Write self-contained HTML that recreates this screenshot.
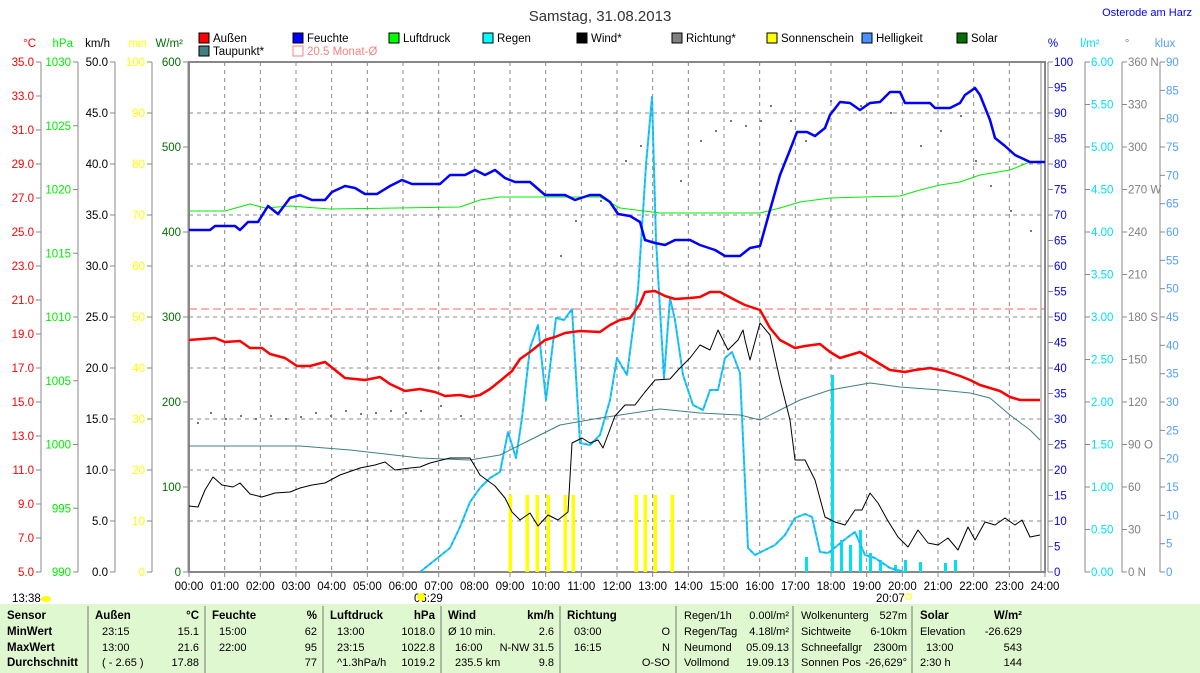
<!DOCTYPE html>
<html><head><meta charset="utf-8">
<style>
body{margin:0;width:1200px;height:673px;background:#fff;overflow:hidden;font-family:"Liberation Sans",sans-serif;}
svg{position:absolute;left:0;top:0}
svg text{font-family:"Liberation Sans",sans-serif;font-size:11.5px}
</style></head><body>
<svg id="s" width="1200" height="673" xmlns="http://www.w3.org/2000/svg">
<rect x="0" y="604" width="1200" height="69" fill="#e0f8d0"/>
<text x="600" y="21" text-anchor="middle" style="font-size:15px" fill="#333">Samstag, 31.08.2013</text>
<text x="1192" y="16" text-anchor="end" style="font-size:11px" fill="#0000ff">Osterode am Harz</text>
<g id="g"></g>
</svg>
<script>
var g=document.getElementById('g'),h='';
function L(x1,y1,x2,y2,c,w,d){h+='<line x1="'+x1+'" y1="'+y1+'" x2="'+x2+'" y2="'+y2+'" stroke="'+c+'" stroke-width="'+(w||1)+'"'+(d?' stroke-dasharray="'+d+'"':'')+'/>';}
function T(x,y,t,c,a,st){h+='<text x="'+x+'" y="'+y+'" fill="'+c+'"'+(a?' text-anchor="'+a+'"':'')+(st?' style="'+st+'"':'')+'>'+t+'</text>';}
function P(pts,c,w,d){h+='<polyline fill="none" stroke="'+c+'" stroke-width="'+w+'"'+(d?' stroke-dasharray="'+d+'"':'')+' stroke-linejoin="round" points="'+pts+'"/>';}
var X0=189,X1=1045,Y0=62,Y1=572,HW=(X1-X0)/24;
for(var i=1;i<24;i++){var x=X0+i*HW;L(x,Y0,x,Y1,'#888',1,'4,4');}
for(var j=1;j<10;j++){var y=Y0+j*51;L(X0,y,X1,y,'#888',1,'4,4');}
function axL(ax,lx,col,min,max,step,dec,unit){L(ax,Y0,ax,Y1,'#888');T(lx,47,unit,col,'end');
 for(var v=max;v>=min-1e-9;v-=step){var y=Y1-(v-min)/(max-min)*(Y1-Y0);L(ax-5,y,ax,y,'#888');T(ax-7,y+4,v.toFixed(dec),col,'end');}}
axL(41,36,'#ff0000',5,35,2,1,'°C');
axL(78,73,'#00ee00',990,1030,5,0,'hPa');
axL(115,110,'#000',0,50,5,1,'km/h');
axL(152,147,'#ffff00',0,100,10,0,'min');
axL(188,183,'#007000',0,600,100,0,'W/m²');
function axR(ax,col,min,max,step,dec,unit,f){L(ax,Y0,ax,Y1,'#888');T(ax+5,47,unit,col,'middle');
 for(var v=max;v>=min-1e-9;v-=step){var y=Y1-(v-min)/(max-min)*(Y1-Y0);L(ax,y,ax+5,y,'#888');T(ax+6,y+4,v.toFixed(dec)+(f?f(v):''),col);}}
axR(1048,'#0000ff',0,100,5,0,'%');
axR(1085,'#00e0f0',0,6,0.5,2,'l/m²');
axR(1122,'#808080',0,360,30,0,'°',function(v){return {360:' N',270:' W',180:' S',90:' O',0:' N'}[v]||'';});
axR(1160,'#50a0ff',0,90,5,0,'klux');
h+='<rect x="'+X0+'" y="'+Y0+'" width="'+(X1-X0)+'" height="'+(Y1-Y0)+'" fill="none" stroke="#888" stroke-width="2"/>';
L(1041,Y0,1041,Y1,'#888');
for(var i=0;i<=24;i++){var x=X0+i*HW;L(x,Y1,x,Y1+5,'#888');T(x,590,(i<10?'0':'')+i+':00','#000','middle');}
T(12,602,'13:38','#000');h+='<ellipse cx="46" cy="599" rx="5" ry="3" fill="#ffff00"/>';
T(414,602,'06:29','#000');h+='<circle cx="421" cy="597" r="4" fill="#ffff00"/>';
T(876,602,'20:07','#000');h+='<rect x="906" y="594" width="5" height="5" fill="none" stroke="#ffff00"/>';
var lg=[[199,38,'#ff0000','Außen'],[293,38,'#0000ff','Feuchte'],[389,38,'#00ff00','Luftdruck'],[483,38,'#00ffff','Regen'],[577,38,'#000','Wind*'],[672,38,'#808080','Richtung*'],[767,38,'#ffff00','Sonnenschein'],[862,38,'#4a90ff','Helligkeit'],[957,38,'#007000','Solar'],[199,51,'#408080','Taupunkt*']];
lg.forEach(function(a){h+='<rect x="'+a[0]+'" y="'+(a[1]-5)+'" width="10" height="10" fill="'+a[2]+'" stroke="#000"/>';T(a[0]+14,a[1]+4,a[3],'#000');});
h+='<rect x="293" y="46" width="10" height="10" fill="none" stroke="#ff8080"/>';T(307,55,'20.5 Monat-Ø','#ff8080');
L(X0,309,X1,309,'#ff6060',1,'8,4');
var dots=[[197,422],[210,412],[225,418],[240,415],[255,418],[270,415],[285,418],[300,416],[315,412],[330,415],[345,410],[360,413],[375,412],[390,410],[405,412],[420,410],[440,405],[460,415],[560,255],[575,220],[600,200],[625,160],[640,145],[680,180],[700,140],[715,130],[730,120],[745,125],[760,120],[770,105],[790,120],[805,140],[830,100],[860,105],[890,112],[920,145],[940,130],[960,115],[975,160],[990,185],[1010,210],[1030,230]];
dots.forEach(function(d){h+='<rect x="'+d[0]+'" y="'+d[1]+'" width="2" height="2" fill="#777"/>';});
[510,527,537,548,565,573,636,645,655,672].forEach(function(x){h+='<rect x="'+(x-1.5)+'" y="495" width="3.5" height="77" fill="#ffff00"/>';});
[[806,557],[832,375],[841,540],[850,545],[860,530],[870,553],[880,560],[895,565],[905,560],[920,562],[945,563],[955,560]].forEach(function(b){h+='<rect x="'+(b[0]-1)+'" y="'+b[1]+'" width="3" height="'+(572-b[1])+'" fill="#00e0f0"/>';});
var hel="420,572 435,560 450,548 460,527 470,502 480,488 490,478 500,472 508,432 516,458 522,418 530,348 538,325 546,400 556,318 564,320 572,309 580,443 590,445 600,435 610,400 617,358 627,375 638,290 646,165 652,97 656,240 664,378 670,298 675,320 683,375 693,405 703,410 710,390 718,390 725,358 732,352 740,373 748,548 755,555 765,550 775,545 785,535 795,518 805,514 812,517 820,552 828,553 838,545 848,537 855,532 865,555 875,558 890,568 905,572";
P(hel,'#00e0f0',2);P(hel,'#4a90ff',1.5,'3,3');
P("189,446 300,446 350,450 420,458 470,460 500,455 530,440 560,425 600,418 640,412 660,409 700,413 740,415 760,420 780,410 800,400 830,390 870,383 900,387 940,390 970,393 990,398 1010,415 1030,430 1040,440",'#408080',1);
P("189,211 225,211 250,204 265,208 290,206 330,209 460,207 480,200 500,197 600,197 620,208 660,213 760,213 780,208 800,202 830,198 900,196 920,190 940,185 960,182 980,175 1010,170 1030,162 1045,162",'#00ee00',1);
P("189,506 198,507 205,490 213,477 222,485 233,487 240,483 250,494 262,497 275,493 290,492 300,488 312,485 325,483 340,475 360,468 375,465 385,462 395,470 410,468 420,467 430,463 450,458 470,458 480,475 495,486 505,498 512,512 520,520 530,513 538,526 548,515 558,520 568,512 572,443 582,438 590,443 598,440 603,448 615,416 625,405 635,405 645,392 655,380 670,379 678,370 690,358 700,345 710,350 718,330 728,350 738,340 743,330 745,340 750,360 760,323 770,335 780,380 790,420 795,460 805,460 815,480 825,517 835,522 845,525 855,510 862,510 870,493 878,503 888,521 898,537 908,547 918,530 928,543 938,545 948,538 958,550 968,527 975,540 985,522 995,525 1005,518 1015,525 1022,520 1030,537 1040,535",'#000',1);
P("189,340 215,338 225,342 240,341 250,348 262,348 270,354 285,358 297,366 310,366 325,362 335,370 345,378 365,380 380,377 390,384 405,391 420,389 435,392 445,396 460,395 470,397 480,395 490,389 500,381 512,371 520,359 530,352 545,340 555,337 565,333 580,331 600,332 610,325 620,320 630,318 640,304 645,292 655,291 665,296 675,299 690,298 700,297 710,292 720,292 735,300 745,305 760,310 770,328 780,340 795,348 805,346 820,344 830,352 840,358 850,355 860,352 870,358 880,364 890,370 905,372 915,370 930,368 945,371 960,376 970,380 980,385 1000,391 1010,397 1020,400 1040,400",'#ff0000',2.5);
P("189,230 210,230 215,226 235,226 240,230 248,222 258,222 268,206 278,214 290,198 300,195 312,200 325,200 332,192 345,186 355,188 365,194 377,194 390,186 402,180 412,184 440,184 450,175 465,175 475,170 485,175 495,170 505,178 515,182 530,182 545,195 565,195 575,200 590,195 600,195 610,202 618,214 630,216 640,222 645,240 655,243 665,245 675,240 690,240 700,245 715,250 725,256 740,256 750,248 760,246 770,210 780,175 790,150 797,132 807,132 815,136 825,128 830,115 840,102 850,103 860,110 870,103 880,102 890,92 900,92 905,103 930,103 935,108 950,108 960,103 965,95 975,88 980,95 990,120 995,138 1005,146 1015,155 1030,162 1045,162",'#0000ff',2.5);
[88,205,323,441,560,676,793,912].forEach(function(x){L(x,606,x,673,'#777');});
var B='font-weight:bold;font-size:11.5px',S='font-size:11px';
var rows=[619,635,651,666];
['Sensor','MinWert','MaxWert','Durchschnitt'].forEach(function(t,i){T(7,rows[i],t,'#000',null,B);});
function T2(x,y,t,a){T(x,y,t,'#000',a,S);}
function col(x1,x2,hd,un,data){T(x1+7,619,hd,'#000',null,B);T(x2-6,619,un,'#000','end',B);data.forEach(function(d,i){T2(x1+14,rows[i+1],d[0]);T2(x2-6,rows[i+1],d[1],'end');});}
col(88,205,'Außen','°C',[['23:15','15.1'],['13:00','21.6'],['( - 2.65 )','17.88']]);
col(205,323,'Feuchte','%',[['15:00','62'],['22:00','95'],['','77']]);
col(323,441,'Luftdruck','hPa',[['13:00','1018.0'],['23:15','1022.8'],['^1.3hPa/h','1019.2']]);
T(448,619,'Wind','#000',null,B);T(554,619,'km/h','#000','end',B);
T2(448,635,'Ø 10 min.');T2(554,635,'2.6','end');
T2(455,651,'16:00');T2(554,651,'N-NW 31.5','end');
T2(455,666,'235.5 km');T2(554,666,'9.8','end');
col(560,676,'Richtung','',[['03:00','O'],['16:15','N'],['','O-SO']]);
var r=[['Regen/1h','0.00l/m²'],['Regen/Tag','4.18l/m²'],['Neumond','05.09.13'],['Vollmond','19.09.13']];
r.forEach(function(d,i){T2(684,rows[i],d[0]);T2(789,rows[i],d[1],'end');});
var w=[['Wolkenunterg','527m'],['Sichtweite','6-10km'],['Schneefallgr','2300m'],['Sonnen Pos','-26,629°']];
w.forEach(function(d,i){T2(801,rows[i],d[0]);T2(907,rows[i],d[1],'end');});
T(920,619,'Solar','#000',null,B);T(1022,619,'W/m²','#000','end',B);
[['Elevation','-26.629'],['13:00','543'],['2:30 h','144']].forEach(function(d,i){T2(i==1?926:920,rows[i+1],d[0]);T2(1022,rows[i+1],d[1],'end');});
g.innerHTML=h;
</script>
</body></html>
